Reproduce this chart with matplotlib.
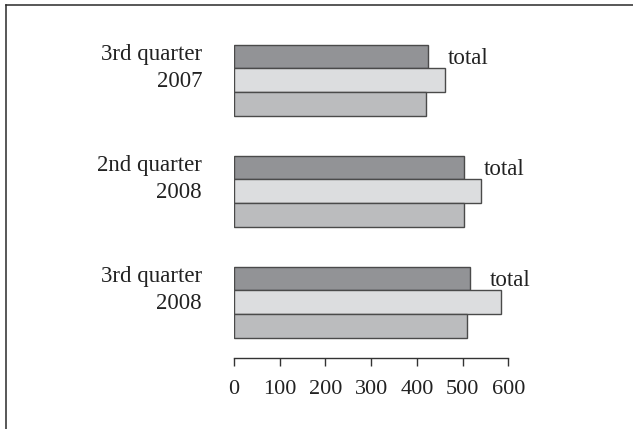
import matplotlib
matplotlib.use("Agg")
import matplotlib.pyplot as plt
from matplotlib.lines import Line2D

plt.rcParams['font.family'] = ['Liberation Serif', 'DejaVu Serif']

categories = ["3rd quarter\n2007", "2nd quarter\n2008", "3rd quarter\n2008"]
values_dark = [424, 504, 516]
values_light = [461, 540, 585]
values_mid = [419, 504, 509]
xticks = [0, 100, 200, 300, 400, 500, 600]
annotation_text = "total"

fig = plt.figure(figsize=(6.33, 4.29), dpi=100)
ax = fig.add_axes([234 / 633, 1 - 358.3 / 429, (508.3 - 234) / 633, (358.3 - 20) / 429])

h = 0.2135
centers = list(range(len(categories)))
edge = "#4a4a4a"
ax.barh([c - h for c in centers], values_dark, height=h, color="#929396",
        edgecolor=edge, linewidth=1.0)
ax.barh(centers, values_light, height=h, color="#dcdddf",
        edgecolor=edge, linewidth=1.0)
ax.barh([c + h for c in centers], values_mid, height=h, color="#bbbcbe",
        edgecolor=edge, linewidth=1.0)

for c, v in zip(centers, values_dark):
    ax.annotate(annotation_text, xy=(v, c - h / 2), xytext=(14, 3),
                textcoords="offset points", ha="left", va="baseline",
                fontsize=16.5, color="#222222")

ax.set_xlim(0, 600)
ax.set_ylim(2.5045, -0.5423)
ax.set_xticks(xticks)
ax.set_xticklabels([str(t) for t in xticks], fontsize=16, color="#222222")
ax.tick_params(axis="x", direction="out", length=6, width=1.0, color="#333333", pad=9.5)

ax.set_yticks([c - h / 2 for c in centers])
ax.set_yticklabels(categories, fontsize=16.5, color="#222222", linespacing=1.38,
                   ha="right", va="center")
ax.tick_params(axis="y", length=0, pad=23)

for s in ["top", "right", "left"]:
    ax.spines[s].set_visible(False)
ax.spines["bottom"].set_color("#333333")
ax.spines["bottom"].set_linewidth(1.0)

fig.add_artist(Line2D([6 / 633, 1.0], [1 - 5 / 429, 1 - 5 / 429],
                      transform=fig.transFigure, color="#2a2a2a", linewidth=1.1))
fig.add_artist(Line2D([6 / 633, 6 / 633], [0.0, 1 - 5 / 429],
                      transform=fig.transFigure, color="#2a2a2a", linewidth=1.1))

fig.savefig("out.png", dpi=100)
